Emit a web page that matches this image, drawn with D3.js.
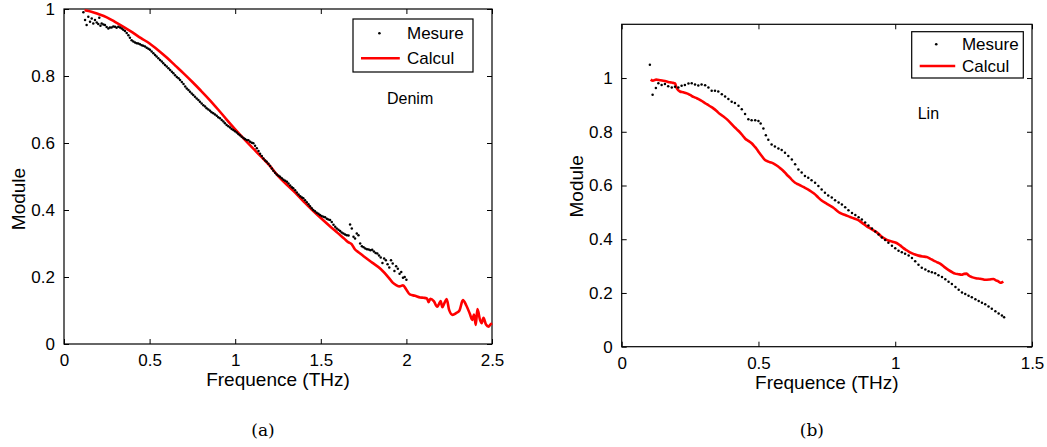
<!DOCTYPE html>
<html>
<head>
<meta charset="utf-8">
<script src="https://cdn.jsdelivr.net/npm/d3@7"></script>
<style>
  body { margin: 0; background: #fff; }
  text { font-family: "Liberation Sans", Arial, sans-serif; fill: #000; }
</style>
</head>
<body>
<svg id="fig" width="1047" height="447"></svg>
<script>
// (a) Denim : [frequence THz, module]
const denimMesure = [
  [0.113,0.990],[0.123,0.967],[0.132,0.952],[0.142,0.977],[0.152,0.962],[0.162,0.972],[0.171,0.957],
  [0.181,0.967],[0.191,0.960],[0.200,0.955],[0.206,0.974],[0.213,0.950],[0.220,0.957],[0.230,0.954],
  [0.239,0.952],[0.249,0.946],[0.259,0.942],[0.268,0.945],[0.278,0.945],[0.288,0.948],[0.298,0.947],
  [0.307,0.944],[0.317,0.947],[0.327,0.945],[0.337,0.942],[0.346,0.938],[0.356,0.934],[0.366,0.928],
  [0.376,0.922],[0.385,0.914],[0.395,0.907],[0.405,0.903],[0.415,0.900],[0.425,0.898],[0.434,0.897],
  [0.444,0.895],[0.454,0.892],[0.463,0.890],[0.473,0.888],[0.483,0.884],[0.493,0.881],[0.502,0.878],
  [0.512,0.873],[0.522,0.868],[0.532,0.863],[0.541,0.858],[0.551,0.853],[0.561,0.848],[0.571,0.843],
  [0.580,0.838],[0.590,0.833],[0.600,0.828],[0.610,0.823],[0.620,0.818],[0.630,0.813],[0.639,0.808],
  [0.649,0.802],[0.659,0.797],[0.669,0.793],[0.678,0.788],[0.688,0.782],[0.698,0.776],[0.708,0.769],
  [0.717,0.763],[0.727,0.758],[0.736,0.753],[0.746,0.748],[0.755,0.743],[0.765,0.738],[0.775,0.733],
  [0.785,0.728],[0.794,0.723],[0.804,0.718],[0.814,0.713],[0.824,0.709],[0.833,0.704],[0.843,0.700],
  [0.853,0.696],[0.862,0.692],[0.872,0.689],[0.882,0.685],[0.892,0.681],[0.901,0.677],[0.911,0.674],
  [0.921,0.669],[0.931,0.664],[0.940,0.659],[0.950,0.654],[0.960,0.650],[0.970,0.646],[0.979,0.642],
  [0.989,0.639],[0.999,0.635],[1.009,0.631],[1.018,0.627],[1.028,0.623],[1.038,0.619],[1.048,0.615],
  [1.057,0.612],[1.067,0.609],[1.077,0.608],[1.087,0.604],[1.097,0.601],[1.106,0.599],[1.116,0.592],
  [1.126,0.584],[1.136,0.576],[1.145,0.568],[1.155,0.561],[1.165,0.554],[1.175,0.548],[1.184,0.544],
  [1.194,0.538],[1.204,0.531],[1.214,0.524],[1.223,0.517],[1.233,0.511],[1.243,0.506],[1.253,0.502],
  [1.262,0.499],[1.272,0.495],[1.282,0.490],[1.292,0.487],[1.302,0.484],[1.311,0.479],[1.321,0.473],
  [1.331,0.468],[1.339,0.465],[1.350,0.459],[1.360,0.452],[1.370,0.446],[1.380,0.441],[1.390,0.437],
  [1.398,0.435],[1.408,0.429],[1.418,0.423],[1.428,0.417],[1.437,0.411],[1.447,0.405],[1.456,0.400],
  [1.466,0.396],[1.476,0.392],[1.486,0.389],[1.495,0.385],[1.505,0.382],[1.515,0.380],[1.525,0.378],
  [1.535,0.374],[1.544,0.372],[1.554,0.370],[1.564,0.364],[1.574,0.356],[1.584,0.350],[1.593,0.345],
  [1.603,0.341],[1.613,0.337],[1.622,0.333],[1.632,0.330],[1.642,0.327],[1.652,0.325],[1.662,0.324],
  [1.671,0.357],[1.681,0.345],[1.691,0.320],[1.700,0.315],[1.710,0.330],[1.720,0.325],[1.730,0.300],
  [1.740,0.292],[1.750,0.289],[1.760,0.285],[1.770,0.283],[1.780,0.282],[1.790,0.280],[1.800,0.281],
  [1.810,0.276],[1.820,0.272],[1.830,0.270],[1.840,0.264],[1.850,0.258],[1.860,0.242],[1.870,0.255],
  [1.880,0.250],[1.890,0.238],[1.900,0.228],[1.910,0.250],[1.920,0.240],[1.930,0.218],[1.940,0.232],
  [1.950,0.225],[1.960,0.210],[1.970,0.215],[1.980,0.198],[1.990,0.200],[2.000,0.192]
];
const denimCalcul = [
  [0.12,0.996],[0.16,0.992],[0.20,0.985],[0.25,0.975],[0.30,0.961],[0.35,0.946],[0.40,0.930],
  [0.45,0.913],[0.50,0.897],[0.55,0.877],[0.60,0.855],[0.65,0.831],[0.70,0.807],[0.75,0.782],
  [0.80,0.756],[0.85,0.729],[0.90,0.700],[0.95,0.670],[1.00,0.641],[1.05,0.613],[1.10,0.586],
  [1.15,0.560],[1.20,0.533],[1.25,0.502],[1.30,0.476],[1.35,0.452],[1.40,0.425],[1.45,0.400],
  [1.50,0.376],[1.55,0.353],[1.60,0.331],[1.64,0.313],[1.66,0.304],[1.68,0.298],[1.70,0.282],
  [1.72,0.274],[1.75,0.262],[1.80,0.243],[1.85,0.224],[1.90,0.196],[1.92,0.183],[1.94,0.176],
  [1.96,0.172],[1.98,0.175],[2.00,0.162],[2.02,0.148],[2.05,0.144],[2.08,0.139],[2.10,0.138],
  [2.12,0.136],[2.13,0.125],[2.14,0.135],[2.16,0.128],[2.18,0.111],[2.19,0.119],[2.20,0.128],
  [2.21,0.110],[2.22,0.120],[2.235,0.134],[2.25,0.101],[2.27,0.087],[2.29,0.092],[2.31,0.100],
  [2.33,0.131],[2.35,0.115],[2.37,0.091],[2.385,0.072],[2.395,0.088],[2.405,0.057],[2.415,0.104],
  [2.43,0.072],[2.44,0.062],[2.45,0.078],[2.465,0.058],[2.48,0.052],[2.49,0.058],[2.50,0.062]
];

// (b) Lin
const linMesure = [
  [0.103,1.049],[0.113,0.938],[0.125,0.963],[0.134,0.981],[0.146,0.974],[0.158,0.978],[0.170,0.969],
  [0.183,0.965],[0.195,0.968],[0.207,0.965],[0.219,0.971],[0.231,0.974],[0.244,0.980],[0.256,0.981],
  [0.268,0.976],[0.280,0.972],[0.292,0.976],[0.305,0.973],[0.317,0.965],[0.329,0.953],[0.341,0.953],
  [0.353,0.950],[0.366,0.940],[0.378,0.931],[0.390,0.922],[0.402,0.912],[0.414,0.907],[0.427,0.897],
  [0.439,0.884],[0.451,0.866],[0.463,0.847],[0.475,0.843],[0.488,0.843],[0.500,0.840],[0.508,0.831],
  [0.518,0.812],[0.527,0.787],[0.536,0.770],[0.548,0.753],[0.560,0.745],[0.573,0.738],[0.585,0.732],
  [0.597,0.722],[0.609,0.710],[0.622,0.697],[0.634,0.679],[0.646,0.660],[0.658,0.648],[0.670,0.635],
  [0.682,0.629],[0.694,0.620],[0.707,0.610],[0.719,0.598],[0.731,0.585],[0.743,0.573],[0.755,0.563],
  [0.768,0.555],[0.780,0.545],[0.793,0.537],[0.805,0.529],[0.817,0.519],[0.829,0.508],[0.842,0.498],
  [0.854,0.490],[0.866,0.482],[0.878,0.473],[0.890,0.462],[0.902,0.451],[0.915,0.440],[0.927,0.429],
  [0.939,0.418],[0.951,0.406],[0.963,0.397],[0.975,0.387],[0.988,0.376],[1.000,0.366],[1.012,0.357],
  [1.024,0.352],[1.036,0.346],[1.049,0.339],[1.061,0.330],[1.073,0.318],[1.085,0.305],[1.097,0.294],
  [1.110,0.287],[1.122,0.281],[1.134,0.277],[1.146,0.273],[1.158,0.266],[1.171,0.259],[1.183,0.251],
  [1.195,0.242],[1.207,0.233],[1.220,0.222],[1.232,0.212],[1.244,0.202],[1.256,0.196],[1.268,0.190],
  [1.280,0.184],[1.293,0.177],[1.305,0.170],[1.317,0.164],[1.329,0.158],[1.341,0.150],[1.353,0.141],
  [1.366,0.132],[1.378,0.124],[1.390,0.116],[1.398,0.110]
];
const linCalcul = [
  [0.106,0.994],[0.114,0.990],[0.126,0.994],[0.140,0.992],[0.152,0.990],[0.165,0.987],[0.176,0.984],
  [0.188,0.982],[0.195,0.980],[0.201,0.962],[0.213,0.950],[0.225,0.947],[0.238,0.943],[0.250,0.937],
  [0.262,0.930],[0.274,0.925],[0.286,0.919],[0.298,0.911],[0.311,0.903],[0.323,0.895],[0.335,0.887],
  [0.347,0.877],[0.359,0.866],[0.372,0.857],[0.384,0.847],[0.396,0.835],[0.408,0.822],[0.420,0.810],
  [0.433,0.797],[0.442,0.786],[0.451,0.775],[0.463,0.766],[0.475,0.757],[0.484,0.747],[0.494,0.735],
  [0.503,0.722],[0.512,0.710],[0.524,0.695],[0.536,0.689],[0.548,0.685],[0.560,0.679],[0.572,0.671],
  [0.582,0.662],[0.591,0.654],[0.603,0.641],[0.615,0.629],[0.625,0.618],[0.634,0.610],[0.646,0.604],
  [0.658,0.598],[0.670,0.591],[0.682,0.585],[0.695,0.576],[0.707,0.567],[0.719,0.555],[0.731,0.544],
  [0.743,0.536],[0.758,0.527],[0.774,0.517],[0.786,0.507],[0.798,0.498],[0.817,0.490],[0.835,0.483],
  [0.850,0.477],[0.865,0.471],[0.880,0.460],[0.896,0.448],[0.911,0.439],[0.926,0.430],[0.939,0.420],
  [0.951,0.409],[0.963,0.401],[0.975,0.395],[0.990,0.391],[1.005,0.386],[1.018,0.377],[1.030,0.367],
  [1.042,0.359],[1.054,0.351],[1.070,0.344],[1.085,0.339],[1.100,0.336],[1.115,0.334],[1.127,0.328],
  [1.139,0.321],[1.152,0.315],[1.164,0.309],[1.179,0.297],[1.194,0.286],[1.207,0.278],[1.219,0.272],
  [1.231,0.270],[1.243,0.268],[1.252,0.271],[1.261,0.272],[1.270,0.264],[1.280,0.259],[1.295,0.255],
  [1.310,0.253],[1.320,0.251],[1.328,0.249],[1.344,0.250],[1.359,0.252],[1.368,0.247],[1.377,0.243],
  [1.385,0.238],[1.389,0.239],[1.395,0.243]
];

const xTicksA = [0, 0.5, 1, 1.5, 2, 2.5];
const xTicksB = [0, 0.5, 1, 1.5];
const yTicks = [0, 0.2, 0.4, 0.6, 0.8, 1];
const legendLabels = ["Mesure", "Calcul"];

const svg = d3.select("#fig");

function drawPanel(p) {
  const g = svg.append("g").attr("transform", `translate(${p.left},${p.top})`);
  const x = d3.scaleLinear().domain(p.xDomain).range([0, p.width]);
  const y = d3.scaleLinear().domain(p.yDomain).range([p.height, 0]);
  const fmt = d => d3.format("")(d);

  // ticks inside the box, on all four sides (matlab style)
  g.append("g").attr("transform", `translate(0,${p.height})`)
    .call(d3.axisBottom(x).tickValues(p.xTicks).tickSize(-5).tickPadding(10).tickFormat(fmt));
  g.append("g")
    .call(d3.axisTop(x).tickValues(p.xTicks).tickSize(-5).tickFormat(""));
  g.append("g")
    .call(d3.axisLeft(y).tickValues(yTicks).tickSize(-5).tickPadding(9).tickFormat(fmt));
  g.append("g").attr("transform", `translate(${p.width},0)`)
    .call(d3.axisRight(y).tickValues(yTicks).tickSize(-5).tickFormat(""));
  g.selectAll(".domain").remove();
  g.selectAll(".tick line").attr("stroke", "#000").attr("stroke-width", 1);
  g.selectAll(".tick text").attr("font-size", 17).attr("font-family", "Liberation Sans, Arial, sans-serif");

  g.append("rect").attr("width", p.width).attr("height", p.height)
    .attr("fill", "none").attr("stroke", "#000").attr("stroke-width", 1.2);

  const line = d3.line().curve(d3.curveMonotoneX).x(d => x(d[0])).y(d => y(d[1]));
  g.append("path").datum(p.calcul).attr("d", line)
    .attr("fill", "none").attr("stroke", "#ff0000").attr("stroke-width", 2.6)
    .attr("stroke-linejoin", "round");

  g.append("g").selectAll("circle").data(p.mesure).join("circle")
    .attr("cx", d => x(d[0])).attr("cy", d => y(d[1])).attr("r", 1.25).attr("fill", "#000");

  // legend
  const lg = g.append("g").attr("transform", `translate(${p.legend.x},${p.legend.y})`);
  lg.append("rect").attr("width", p.legend.w).attr("height", p.legend.h)
    .attr("fill", "#fff").attr("stroke", "#000").attr("stroke-width", 1.2);
  lg.append("circle").attr("cx", p.legend.w * 0.22).attr("cy", p.legend.h * 0.27).attr("r", 1.3).attr("fill", "#000");
  lg.append("line").attr("x1", 8).attr("x2", p.legend.w * 0.39).attr("y1", p.legend.h * 0.74).attr("y2", p.legend.h * 0.74)
    .attr("stroke", "#ff0000").attr("stroke-width", 2.6);
  legendLabels.forEach((t, i) => {
    lg.append("text").attr("x", p.legend.w * 0.45).attr("y", p.legend.h * (i ? 0.74 : 0.27) + 6)
      .attr("font-size", 17).text(t);
  });

  g.append("text").attr("x", p.note.x).attr("y", p.note.y).attr("font-size", 16).text(p.note.text);

  g.append("text").attr("x", p.width / 2).attr("y", p.height + 42)
    .attr("text-anchor", "middle").attr("font-size", 19).text("Frequence (THz)");

  g.append("text")
    .attr("transform", `translate(${p.yLabelX},${p.yLabelY}) rotate(-90)`)
    .attr("text-anchor", "middle").attr("font-size", 19).text("Module");

  svg.append("text").attr("x", p.left + p.width / 2 - 15).attr("y", 436)
    .attr("text-anchor", "middle").attr("font-size", 17)
    .style("font-family", "'DejaVu Serif', 'Liberation Serif', serif").text(p.caption);
}

drawPanel({
  left: 64, top: 9, width: 428, height: 335,
  xDomain: [0, 2.5], yDomain: [0, 1], xTicks: xTicksA,
  mesure: denimMesure, calcul: denimCalcul,
  legend: { x: 289, y: 10, w: 120, h: 53 },
  note: { text: "Denim", x: 323, y: 95 },
  yLabelX: -39, yLabelY: 190, caption: "(a)"
});

drawPanel({
  left: 621.7, top: 24.3, width: 410.3, height: 322.4,
  xDomain: [0, 1.5], yDomain: [0, 1.2], xTicks: xTicksB,
  mesure: linMesure, calcul: linCalcul,
  legend: { x: 290, y: 7.4, w: 111.6, h: 46.3 },
  note: { text: "Lin", x: 296, y: 95 },
  yLabelX: -39, yLabelY: 162, caption: "(b)"
});
</script>
</body>
</html>
